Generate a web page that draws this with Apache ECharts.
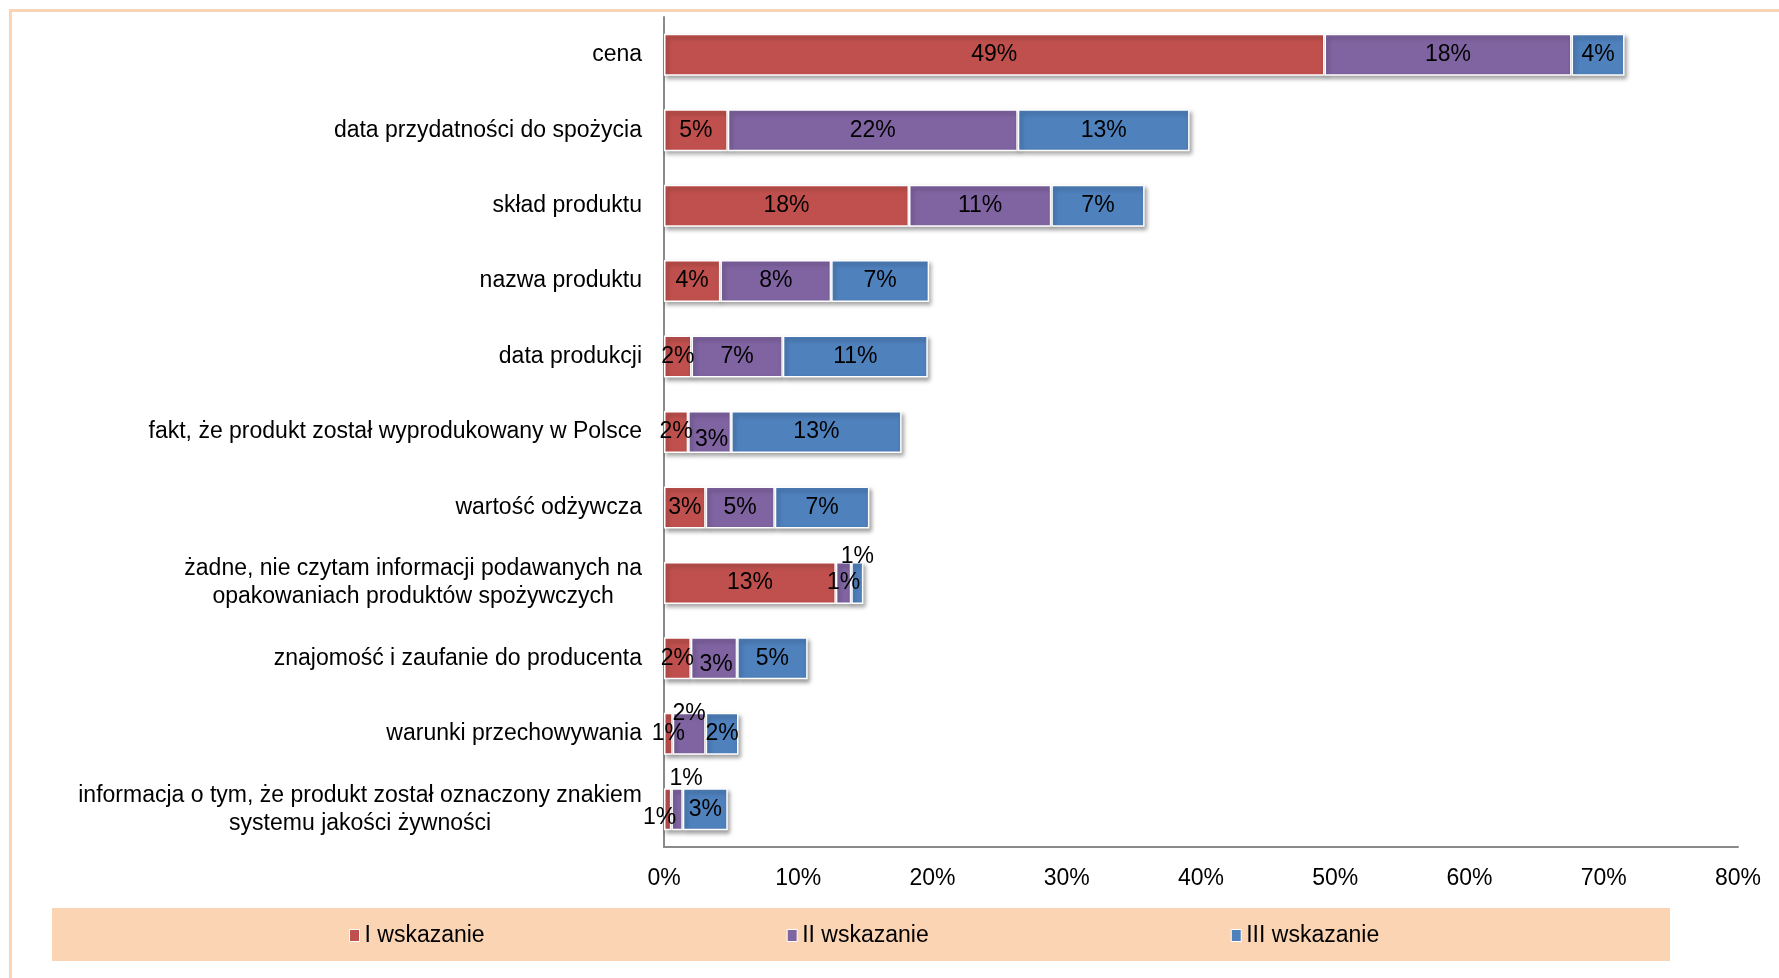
<!DOCTYPE html>
<html>
<head>
<meta charset="utf-8">
<script src="https://cdn.jsdelivr.net/npm/echarts@6/dist/echarts.min.js"></script>
<style>
html,body{margin:0;padding:0;background:#fff;}
#chart{width:1779px;height:978px;}
</style>
</head>
<body>
<div id="chart"></div>
<script>
const categories = [
  'cena',
  'data przydatności do spożycia',
  'skład produktu',
  'nazwa produktu',
  'data produkcji',
  'fakt, że produkt został wyprodukowany w Polsce',
  'wartość odżywcza',
  'żadne, nie czytam informacji podawanych na\nopakowaniach produktów spożywczych',
  'znajomość i zaufanie do producenta',
  'warunki przechowywania',
  'informacja o tym, że produkt został oznaczony znakiem\nsystemu jakości żywności'
];
const seriesNames = ['I wskazanie', 'II wskazanie', 'III wskazanie'];
const first  = [49.2, 4.75, 18.25, 4.2, 2.05, 1.8, 3.1, 12.8, 2.0, 0.65, 0.55];
const second = [18.4, 21.6, 10.6, 8.25, 6.8, 3.2, 5.15, 1.15, 3.45, 2.45, 0.85];
const third  = [3.95, 12.8, 6.95, 7.3, 10.8, 12.7, 7.05, 0.9, 5.25, 2.45, 3.35];
const xTicks = [0, 10, 20, 30, 40, 50, 60, 70, 80];

// manual label displacements (style only), keyed "series-index"
const labelOffsets = {
  '1-5': [2, 8],
  '2-7': [0, -26],
  '1-8': [2, 6],
  '1-9': [0, -20],
  '0-10': [-8, 8],
  '1-10': [9, -31]
};

const colors = ['#C0504D', '#8064A2', '#4F81BD'];
const FONT = "'Liberation Sans', Arial, sans-serif";
const FS = 23;
const allValues = [first, second, third];

const chart = echarts.init(document.getElementById('chart'), null, {renderer: 'canvas'});

const series = allValues.map((vals, si) => ({
  name: seriesNames[si],
  type: 'bar',
  stack: 'total',
  barWidth: 42,
  data: vals.map((v, di) => {
    const off = labelOffsets[si + '-' + di];
    return off ? {value: v, label: {offset: off}} : v;
  }),
  itemStyle: {
    color: colors[si],
    borderColor: '#ffffff',
    borderWidth: 1.5,
    shadowColor: 'rgba(0,0,0,0.35)',
    shadowBlur: 4,
    shadowOffsetX: 2,
    shadowOffsetY: 3
  },
  label: {
    show: true,
    position: 'inside',
    color: '#000',
    fontFamily: FONT,
    fontSize: FS,
    formatter: p => Math.round(p.value) + '%'
  },
  emphasis: {disabled: true}
}));

chart.setOption({
  animation: false,
  backgroundColor: '#ffffff',
  graphic: [
    {type: 'rect', left: 8, top: 8, shape: {width: 1820, height: 1020}, style: {fill: 'none', stroke: '#FAD4B4', lineWidth: 3}, z: -10},
    {type: 'rect', left: 52, top: 908, shape: {width: 1618, height: 53}, style: {fill: '#FBD4B4'}, z: -5}
  ],
  grid: {left: 664, right: 41, top: 17, bottom: 131, containLabel: false},
  legend: {
    data: seriesNames,
    left: 344,
    top: 919,
    itemGap: 302,
    itemWidth: 10,
    itemHeight: 12,
    icon: 'rect',
    itemStyle: {borderColor: '#ffffff', borderWidth: 1},
    textStyle: {fontFamily: FONT, fontSize: FS, color: '#000'},
    selectedMode: false
  },
  xAxis: {
    type: 'value',
    min: xTicks[0],
    max: xTicks[xTicks.length - 1],
    interval: xTicks[1] - xTicks[0],
    axisLine: {show: true, lineStyle: {color: '#8a8a8a', width: 2}},
    axisTick: {show: false},
    splitLine: {show: false},
    axisLabel: {formatter: '{value}%', color: '#000', fontFamily: FONT, fontSize: FS, margin: 20}
  },
  yAxis: {
    type: 'category',
    data: categories,
    inverse: true,
    axisLine: {show: true, lineStyle: {color: '#8a8a8a', width: 2}},
    axisTick: {show: false},
    axisLabel: {
      margin: 22,
      color: '#000',
      fontFamily: FONT,
      fontSize: FS,
      formatter: v => v.split('\n').map(l => '{c|' + l + '}').join('\n'),
      rich: {c: {align: 'center', fontFamily: FONT, fontSize: FS, lineHeight: 28, color: '#000'}}
    }
  },
  series: series
});
</script>
</body>
</html>
